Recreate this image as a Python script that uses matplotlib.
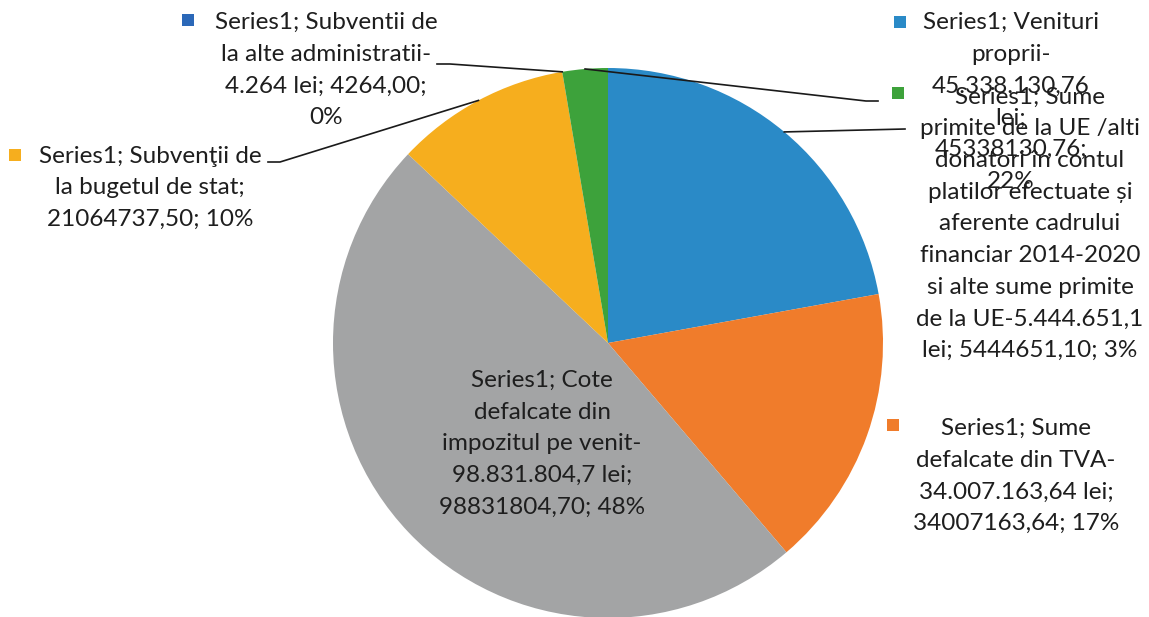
import numpy as np
import matplotlib.pyplot as plt

plt.rcParams['font.family'] = ['Lato', 'DejaVu Sans']

# slices, clockwise from 12 o'clock
names = ["Venituri proprii", "Sume defalcate din TVA", "Cote defalcate din impozitul pe venit",
         "Subventii de la bugetul de stat", "Subventii de la alte administratii", "Sume primite de la UE"]
values = [45338130.76, 34007163.64, 98831804.70, 21064737.50, 4264.00, 5444651.10]
colors = ["#2A8AC7", "#F07C2B", "#A3A4A5", "#F6AE1E", "#2B68B8", "#3DA23B"]
labels = [
    "Series1; Venituri\nproprii-\n45.338.130,76\nlei;\n45338130,76;\n22%",
    "Series1; Sume\ndefalcate din TVA-\n34.007.163,64 lei;\n34007163,64; 17%",
    "Series1; Cote\ndefalcate din\nimpozitul pe venit-\n98.831.804,7 lei;\n98831804,70; 48%",
    "Series1; Subvenţii de\nla bugetul de stat;\n21064737,50; 10%",
    "Series1; Subventii de\nla alte administratii-\n4.264 lei; 4264,00;\n0%",
    "Series1; Sume\nprimite de la UE /alti\ndonatori în contul\nplatilor efectuate și\naferente cadrului\nfinanciar 2014-2020\nsi alte sume primite\nde la UE-5.444.651,1\nlei; 5444651,10; 3%",
]

W, H = 1149, 617
cx, cy, R = 608, 343, 275

fig = plt.figure(figsize=(W / 100, H / 100), dpi=100)
ax = fig.add_axes([0, 0, 1, 1])

# y axis is inverted, so counterclock in data = clockwise on screen
ax.pie(values, colors=colors, startangle=-90, counterclock=True,
       center=(cx, cy), radius=R, wedgeprops=dict(linewidth=0), frame=True)
ax.set_xlim(0, W)
ax.set_ylim(H, 0)
ax.set_aspect('equal')
ax.axis('off')

frac = np.array(values) / sum(values)
start = np.concatenate([[0], np.cumsum(frac)[:-1]])
mid = -90 + (start + frac / 2) * 360  # data angle


def edge(i):
    a = np.deg2rad(mid[i])
    return cx + R * np.cos(a), cy + R * np.sin(a)


# label block centres and marker positions (pixels)
label_pos = [(1011, 102), (1016, 476), (542, 444), (150, 188), (326, 70), (1030, 224)]
marker_pos = [(900, 22), (893, 425), None, (15, 155), (188, 20), (898, 93)]

for i, lab in enumerate(labels):
    x, y = label_pos[i]
    ax.text(x, y, lab, ha='center', va='center', fontsize=17.5, color='#1e1e1e',
            linespacing=1.63)
    if marker_pos[i] is not None:
        mx, my = marker_pos[i]
        ax.add_patch(plt.Rectangle((mx - 6, my - 6), 12, 12, color=colors[i], lw=0))

# leader lines: wedge edge -> label anchor
leaders = {
    0: [(905, 129)],
    3: [(280, 162), (268, 162)],
    4: [(450, 64), (437, 64)],
    5: [(866, 101), (878, 101)],
}
for i, pts in leaders.items():
    ex, ey = edge(i)
    xs = [ex] + [p[0] for p in pts]
    ys = [ey] + [p[1] for p in pts]
    ax.plot(xs, ys, color='#1a1a1a', lw=1.2)

fig.savefig('out.png', dpi=100)
